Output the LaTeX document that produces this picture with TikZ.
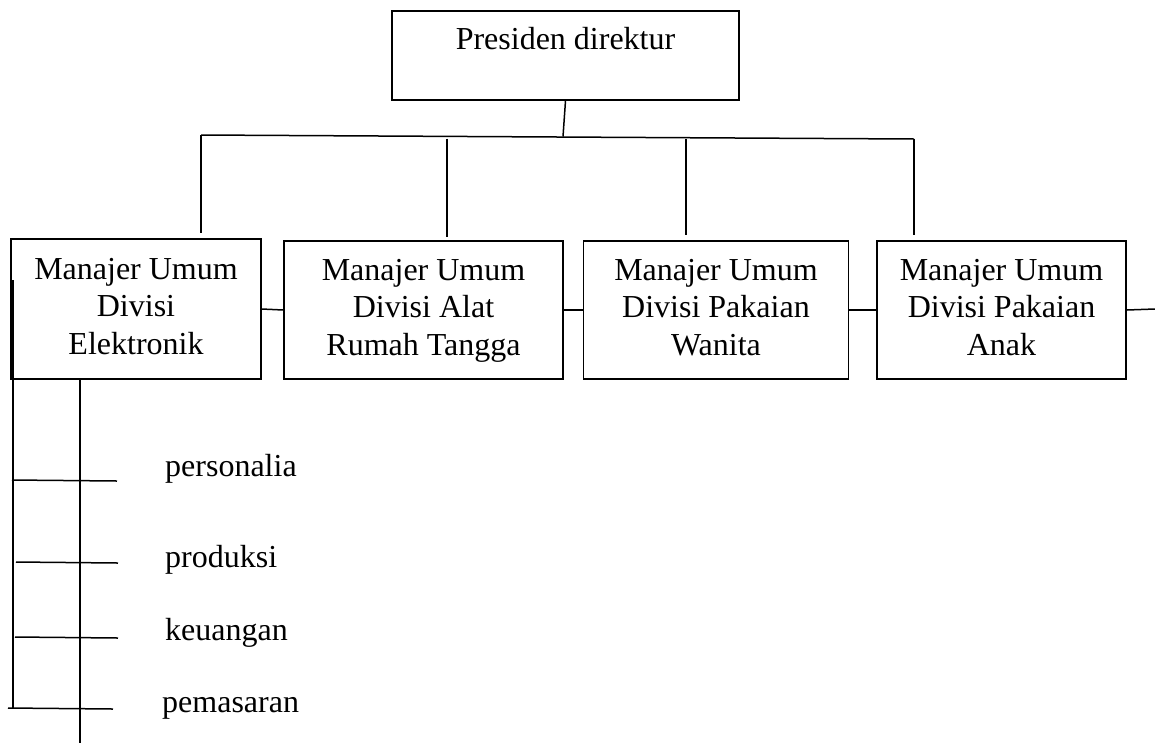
\documentclass[tikz,border=0pt]{standalone}
\usepackage{fontspec}
\setmainfont{Liberation Serif}
\begin{document}
\begin{tikzpicture}[x=1pt,y=-1pt,
  ln/.style={line width=1.5pt},
  box/.style={draw,line width=1.5pt,inner sep=0pt,align=center,
    font=\fontsize{32}{37.5}\selectfont},
  lbl/.style={anchor=base west,inner sep=0pt,font=\fontsize{32}{37.5}\selectfont}]
\useasboundingbox (0,0) rectangle (1155,745);
% top box
\node[box,minimum width=347pt,text height=38pt,text depth=51pt] (pres) at (565.5,55.5) {Presiden direktur};
% division boxes
\node[box,minimum width=250pt,minimum height=140pt] (b1) at (136,309) {\strut Manajer Umum\\Divisi\\\strut Elektronik};
\node[box,minimum width=279pt,minimum height=138pt] (b2) at (423.5,310) {\strut Manajer Umum\\Divisi Alat\\\strut Rumah Tangga};
\node[box,minimum width=265pt,minimum height=138pt] (b3) at (716,310) {\strut Manajer Umum\\Divisi Pakaian\\\strut Wanita};
\node[box,minimum width=249pt,minimum height=138pt] (b4) at (1001.5,310) {\strut Manajer Umum\\Divisi Pakaian\\\strut Anak};
% bus
\coordinate (bus) at (563,136.5);
\coordinate (busL) at (201,135);
\coordinate (busR) at (914,139);
\coordinate (t2) at (447,138.5);
\coordinate (t3) at (686,138.8);
\coordinate (e1) at (201,233);
\coordinate (e2) at (447,237);
\coordinate (e3) at (686,235);
\coordinate (e4) at (914,235);
\draw[ln] (pres.south) -- (bus);
\draw[ln] (busL) -- (busR);
\draw[ln] (busL) -- (e1);
\draw[ln] (t2) -- (e2);
\draw[ln] (t3) -- (e3);
\draw[ln] (busR) -- (e4);
% side connectors
\coordinate (rs) at (1155,309);
\draw[ln] (b1.east) -- (b2.west);
\draw[ln] (b2.east) -- (b3.west);
\draw[ln] (b3.east) -- (b4.west);
\draw[ln] (b4.east) -- (rs);
% sub-units
\coordinate (v1t) at (13,280);
\coordinate (v1b) at (13,708);
\coordinate (v2b) at (80,743);
\draw[ln] (v1t) -- (v1b);
\draw[ln] (b1.south -| v2b) -- (v2b);
\coordinate (h1a) at (12,480); \coordinate (h1b) at (117,481);
\coordinate (h2a) at (16,562); \coordinate (h2b) at (118,563);
\coordinate (h3a) at (15,637); \coordinate (h3b) at (118,638);
\coordinate (h4a) at (8,708);  \coordinate (h4b) at (113,709);
\draw[ln] (h1a) -- (h1b);
\draw[ln] (h2a) -- (h2b);
\draw[ln] (h3a) -- (h3b);
\draw[ln] (h4a) -- (h4b);
\node[lbl] (s1) at (165,476) {personalia};
\node[lbl] (s2) at (165,567) {produksi};
\node[lbl] (s3) at (165,640) {keuangan};
\node[lbl] (s4) at (162,712) {pemasaran};
\end{tikzpicture}
\end{document}
